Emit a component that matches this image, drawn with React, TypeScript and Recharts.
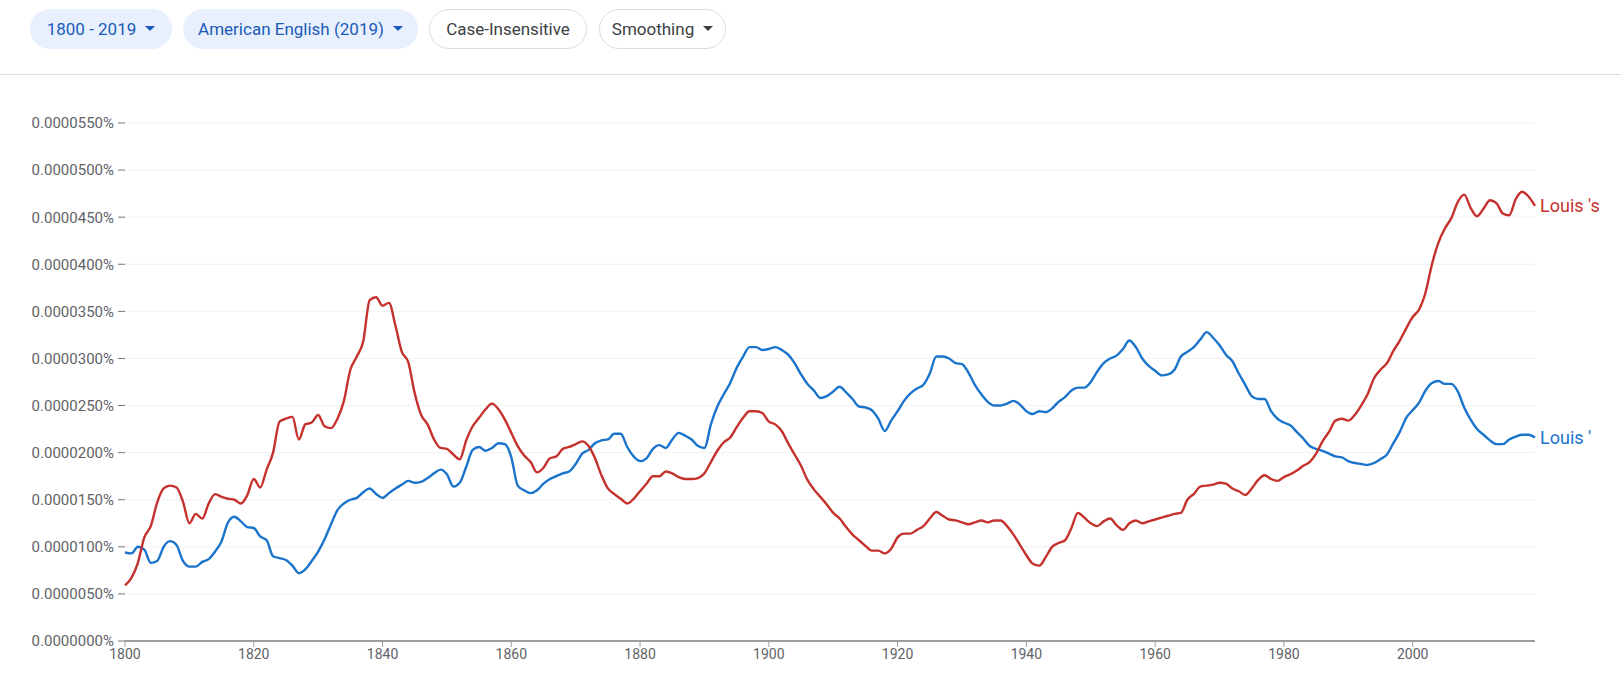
import React from "react";
import {
  CartesianGrid,
  Line,
  LineChart,
  XAxis,
  YAxis,
} from "recharts";

// values are in units of 0.0000001%
const startYear = 1800;

const louisS = [
  59, 67, 83, 110, 122, 147, 162, 165, 163, 148, // 1800
  125, 135, 130, 146, 156, 153, 151, 150, 146, 155, // 1810
  172, 163, 182, 200, 233, 236, 238, 214, 230, 232, // 1820
  240, 228, 226, 236, 255, 288, 302, 318, 362, 365, // 1830
  356, 359, 335, 307, 296, 263, 240, 230, 214, 205, // 1840
  204, 198, 193, 213, 228, 237, 246, 252, 246, 235, // 1850
  221, 207, 197, 190, 179, 184, 194, 196, 204, 206, // 1860
  209, 212, 207, 194, 176, 162, 156, 151, 146, 151, // 1870
  159, 167, 175, 175, 180, 178, 174, 172, 172, 173, // 1880
  178, 190, 202, 211, 216, 227, 237, 244, 244, 242, // 1890
  233, 230, 223, 210, 198, 186, 171, 161, 153, 145, // 1900
  136, 130, 121, 113, 107, 101, 96, 96, 93, 98, // 1910
  110, 114, 114, 118, 122, 130, 137, 133, 129, 128, // 1920
  126, 124, 126, 128, 126, 128, 128, 122, 113, 102, // 1930
  91, 82, 80, 89, 100, 104, 107, 120, 136, 131, // 1940
  125, 122, 127, 130, 123, 118, 125, 128, 125, 127, // 1950
  129, 131, 133, 135, 136, 150, 156, 164, 165, 166, // 1960
  168, 167, 162, 159, 155, 162, 171, 176, 172, 170, // 1970
  174, 177, 181, 186, 190, 199, 212, 222, 234, 236, // 1980
  234, 240, 250, 262, 279, 288, 295, 308, 319, 332, // 1990
  344, 352, 370, 400, 423, 438, 449, 466, 474, 460, // 2000
  451, 459, 468, 465, 454, 452, 469, 477, 472, 462, // 2010
];

const louisApos = [
  94, 93, 100, 97, 83, 85, 100, 106, 102, 85, // 1800
  79, 79, 84, 87, 95, 106, 126, 132, 127, 121, // 1810
  120, 111, 107, 90, 88, 86, 80, 72, 76, 85, // 1820
  95, 108, 124, 139, 146, 150, 152, 158, 162, 156, // 1830
  152, 157, 162, 166, 170, 168, 169, 173, 178, 182, // 1840
  177, 164, 168, 185, 203, 206, 202, 205, 210, 209, // 1850
  195, 165, 160, 157, 160, 167, 172, 175, 178, 180, // 1860
  188, 199, 203, 210, 213, 214, 220, 220, 206, 196, // 1870
  191, 194, 204, 208, 205, 214, 221, 218, 214, 207, // 1880
  205, 230, 249, 262, 274, 290, 302, 312, 312, 309, // 1890
  310, 312, 309, 304, 295, 283, 273, 266, 258, 260, // 1900
  265, 270, 264, 257, 249, 248, 245, 236, 223, 234, // 1910
  244, 255, 263, 268, 272, 284, 302, 302, 300, 295, // 1920
  294, 285, 272, 262, 254, 250, 250, 252, 255, 251, // 1930
  244, 241, 244, 243, 247, 254, 259, 266, 269, 269, // 1940
  275, 286, 295, 300, 303, 310, 319, 312, 300, 292, // 1950
  287, 282, 283, 288, 302, 307, 312, 320, 328, 322, // 1960
  314, 304, 297, 284, 272, 260, 257, 257, 244, 236, // 1970
  232, 229, 222, 215, 207, 204, 202, 199, 196, 195, // 1980
  191, 189, 188, 187, 189, 193, 198, 210, 222, 237, // 1990
  245, 253, 266, 274, 276, 273, 273, 265, 248, 235, // 2000
  225, 219, 213, 209, 209, 214, 217, 219, 219, 216, // 2010
];

const xTicks = [1800, 1820, 1840, 1860, 1880, 1900, 1920, 1940, 1960, 1980, 2000];
const yTicks = [0, 50, 100, 150, 200, 250, 300, 350, 400, 450, 500, 550];

const RED = "#c5312c";
const BLUE = "#1b74cc";

const data = louisS.map((v, i) => ({
  year: startYear + i,
  louisS: v,
  louisApos: louisApos[i],
}));

const fmtPct = (v: number) => (v / 1e7).toFixed(7) + "%";

const endLabel = (name: string, color: string) => (props: any) => {
  if (props.index !== data.length - 1) return <g key={`l-${props.index}`} />;
  return (
    <text
      key="end"
      x={props.x + 5}
      y={props.y}
      dy={6}
      fill={color}
      fontSize={18}
      fontFamily="Roboto"
    >
      {name}
    </text>
  );
};

const Arrow: React.FC<{ color: string }> = ({ color }) => (
  <svg width="10" height="6" style={{ marginLeft: 9 }}>
    <path d="M0 0 L10 0 L5 5 Z" fill={color} />
  </svg>
);

const chip = (left: number, width: number, active: boolean): React.CSSProperties => ({
  position: "absolute",
  top: 9,
  left,
  width,
  height: 40,
  boxSizing: "border-box",
  borderRadius: 20,
  background: active ? "#e8f0fe" : "#fff",
  border: active ? "1px solid #e8f0fe" : "1px solid #dadce0",
  color: active ? "#1a5bb8" : "#3c4043",
  display: "flex",
  alignItems: "center",
  justifyContent: "center",
  fontSize: 17,
  fontFamily: "Roboto",
});

export default function App() {
  return (
    <div
      style={{
        position: "absolute",
        left: 0,
        top: 0,
        width: 1621,
        height: 682,
        background: "#fff",
        overflow: "hidden",
      }}
    >
      <div style={chip(30, 142, true)}>
        1800 - 2019
        <Arrow color="#1a5bb8" />
      </div>
      <div style={chip(183, 235, true)}>
        American English (2019)
        <Arrow color="#1a5bb8" />
      </div>
      <div style={chip(429, 158, false)}>Case-Insensitive</div>
      <div style={chip(599, 127, false)}>
        Smoothing
        <Arrow color="#3c4043" />
      </div>
      <div
        style={{
          position: "absolute",
          top: 74,
          left: 0,
          width: 1621,
          height: 1,
          background: "#dadce0",
        }}
      />

      <div style={{ position: "absolute", top: 80, left: 0 }}>
        <LineChart
          width={1621}
          height={602}
          data={data}
          margin={{ top: 43, right: 86, left: 0, bottom: 11 }}
        >
          <CartesianGrid horizontal vertical={false} stroke="#f1f1f1" />
          <XAxis
            dataKey="year"
            type="number"
            domain={[1800, 2019]}
            ticks={xTicks}
            height={30}
            axisLine={{ stroke: "#9e9e9e", strokeWidth: 2 }}
            tickLine={{ stroke: "#9e9e9e" }}
            tickSize={6}
            tickMargin={2}
            tick={{ fill: "#5f6368", fontSize: 14, fontFamily: "Roboto" }}
          />
          <YAxis
            domain={[0, 550]}
            ticks={yTicks}
            width={125}
            axisLine={false}
            tickLine={{ stroke: "#757575" }}
            tickSize={7}
            tickMargin={4}
            tickFormatter={fmtPct}
            tick={{ fill: "#5f6368", fontSize: 15, fontFamily: "Roboto" }}
          />
          <Line
            type="monotone"
            dataKey="louisApos"
            stroke={BLUE}
            strokeWidth={2.4}
            dot={false}
            isAnimationActive={false}
            label={endLabel("Louis '", BLUE)}
          />
          <Line
            type="monotone"
            dataKey="louisS"
            stroke={RED}
            strokeWidth={2.4}
            dot={false}
            isAnimationActive={false}
            label={endLabel("Louis 's", RED)}
          />
        </LineChart>
      </div>
    </div>
  );
}
